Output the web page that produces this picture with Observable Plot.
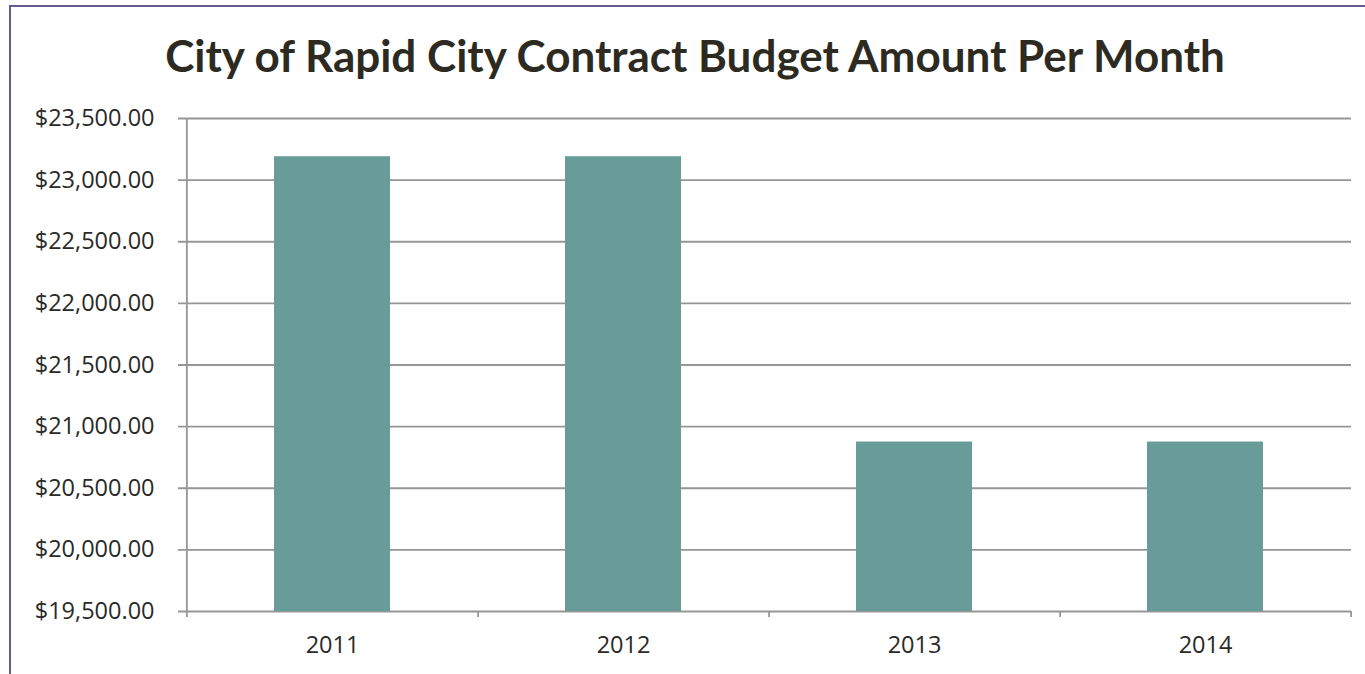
<!DOCTYPE html>
<html><head><meta charset="utf-8">
<script src="https://cdn.jsdelivr.net/npm/d3@7"></script>
<script src="https://cdn.jsdelivr.net/npm/@observablehq/plot@0.6"></script>
<style>
body{margin:0;background:#fff;overflow:hidden;}
#wrap{position:relative;width:1365px;height:674px;overflow:hidden;background:#fff;}
#frame{position:absolute;left:9px;top:5px;width:1400px;height:720px;border:2px solid #685a8f;box-sizing:border-box;}
#title{position:absolute;left:0;top:33px;width:1390px;text-align:center;font-family:Lato,sans-serif;font-weight:bold;font-size:44px;line-height:1;color:#2d2a22;white-space:nowrap;}
#chart{position:absolute;left:0;top:100px;}
</style></head>
<body><div id="wrap"><div id="frame"></div><div id="title">City of Rapid City Contract Budget Amount Per Month</div><div id="chart"></div></div>
<script>
const years = ["2011", "2012", "2013", "2014"];
const amounts = [23190, 23190, 20875, 20875];
const yTicks = [19500, 20000, 20500, 21000, 21500, 22000, 22500, 23000, 23500];
const yMin = 19500, yMax = 23500;

const data = years.map((year, i) => ({year, value: amounts[i]}));
const W = 1365, H = 574, ML = 186, MR = 14, MT = 18, MB = 63;
const step = (W - ML - MR) / years.length;
const plotH = H - MT - MB;
const gridColor = "#969696";

const chart = Plot.plot({
  width: W, height: H,
  marginLeft: ML, marginRight: MR, marginTop: MT, marginBottom: MB,
  style: {fontFamily: "'Open Sans', sans-serif", fontSize: "20px", color: "#2a2a26", background: "transparent"},
  x: {type: "band", domain: years, paddingInner: 0.6, paddingOuter: 0.3},
  y: {domain: [yMin, yMax]},
  marks: [
    Plot.gridY(yTicks, {stroke: gridColor, strokeOpacity: 1, strokeWidth: 1.8, insetLeft: -8}),
    Plot.barY(data, {x: "year", y1: yMin, y2: "value", fill: "#689c99"}),
    Plot.ruleX([years[0]], {dx: -step / 2, stroke: gridColor, strokeWidth: 1.8, insetBottom: -6}),
    Plot.ruleX(years, {dx: step / 2, stroke: gridColor, strokeWidth: 1.8, insetTop: plotH, insetBottom: -6}),
    Plot.axisY(yTicks, {tickSize: 0, tickPadding: 32, tickFormat: d3.format("$,.2f"), fontSize: 23.5, label: null}),
    Plot.axisX({tickSize: 0, tickPadding: 25, fontSize: 23.5, label: null})
  ]
});
document.getElementById("chart").appendChild(chart);
</script>
</body></html>
